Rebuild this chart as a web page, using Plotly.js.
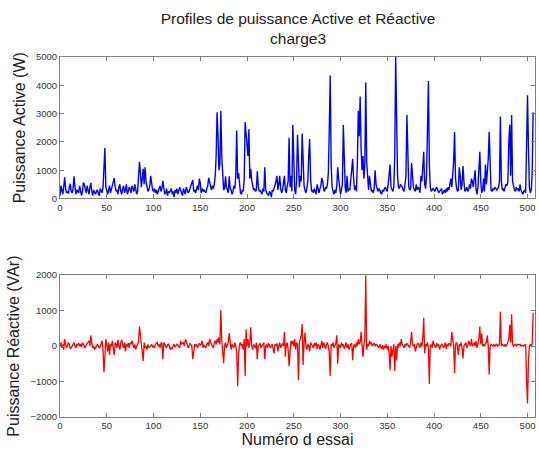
<!DOCTYPE html>
<html><head><meta charset="utf-8">
<script src="https://cdn.plot.ly/plotly-3.0.1.min.js"></script>
<style>html,body{margin:0;padding:0;background:#fff}</style>
</head><body><div id="chart" style="width:539px;height:455px"></div>
<script>
const title = "Profiles de puissance Active et Réactive<br>charge3";
const yTitleTop = "Puissance Active (W)";
const yTitleBottom = "Puissance Réactive (VAr)";
const xTitle = "Numéro d essai";
const xTicks = [0,50,100,150,200,250,300,350,400,450,500];

const activePower = [
100,450,300,150,420,750,350,200,250,180,400,520,250,200,350,780,400,150,300,250,
200,450,300,100,250,560,500,350,200,450,300,150,400,550,250,100,300,200,150,250,
300,180,100,350,250,200,400,1100,1780,400,250,150,300,450,200,350,500,650,720,400,
250,300,150,400,500,250,150,350,450,200,300,500,150,250,400,350,200,450,300,250,
500,300,150,250,650,1300,900,400,700,1050,500,1100,600,350,250,300,450,800,400,300,
250,350,200,300,150,250,300,450,250,350,620,300,150,200,350,100,250,200,300,350,
150,250,50,300,200,350,150,250,400,300,200,100,350,250,150,400,300,200,250,350,
400,550,650,250,300,200,350,450,300,700,550,200,350,250,300,250,200,350,450,730,
600,400,300,450,350,500,800,1500,3050,2200,1000,1200,3100,1500,500,300,350,780,400,250,
200,780,350,300,150,250,450,350,800,2400,700,900,400,200,150,300,250,650,2700,2050,
1900,1500,2450,700,1050,650,400,300,350,250,300,960,450,250,300,200,150,350,250,1100,
300,200,150,100,250,200,50,300,250,350,450,600,800,300,500,800,350,200,300,500,
800,300,200,450,600,2150,400,800,250,2600,1500,300,150,600,2250,1200,400,800,600,2300,
1200,450,300,200,350,600,1500,2100,700,250,300,200,350,250,150,500,300,200,350,450,
730,600,300,250,400,350,500,900,2500,4350,1200,400,250,150,300,200,450,1100,700,250,
150,300,500,2600,1500,400,200,800,250,350,300,600,900,1400,700,300,450,250,1200,3100,
2200,3600,1800,1000,1500,700,1200,4100,1300,500,300,800,400,250,300,200,350,1000,500,300,
250,350,300,200,150,300,250,350,400,300,250,500,800,1200,400,300,250,400,1500,5000,
2500,800,400,350,500,450,400,300,250,500,800,2950,1500,400,300,350,1250,700,400,300,
250,500,300,400,350,200,800,600,1000,1650,500,350,800,2500,4150,1200,400,250,300,350,
300,250,350,400,300,200,250,300,350,150,250,300,200,350,250,400,300,500,700,400,
800,1300,2350,700,400,250,300,1100,800,300,500,1150,600,250,300,400,250,300,500,350,
700,600,400,800,1000,300,150,400,900,1650,600,200,300,700,250,1200,500,900,1400,2350,
800,300,250,350,300,400,350,300,350,400,600,2900,600,300,350,250,400,500,450,600,
2000,2600,800,2950,600,350,300,250,400,300,350,250,500,300,200,150,250,300,200,1500,
3650,1800,400,200,300,900,3050
];

const reactivePower = [
0,100,-50,50,-100,200,50,-50,0,100,50,-80,-50,0,50,100,0,-50,50,30,
80,0,50,-30,100,50,0,-50,30,80,100,150,0,300,80,-50,0,-100,-50,0,
50,0,-50,-20,80,150,-100,-740,-300,200,50,-150,100,-250,50,0,150,-100,-250,100,
50,-50,180,0,-100,100,180,50,-50,100,-150,50,0,80,-50,100,50,150,0,-50,
50,-100,0,50,100,560,300,0,-100,-420,100,-50,0,-100,50,-50,-20,0,50,-30,
0,-50,50,80,100,0,50,-50,80,100,-370,100,50,0,-50,30,50,0,-100,-50,
-80,0,50,-30,0,50,30,0,-50,150,50,80,100,0,180,150,50,-50,0,80,
50,0,-370,-100,50,0,50,-50,0,80,30,50,150,-50,30,0,-50,50,100,0,
200,100,50,0,-50,80,150,50,200,100,250,50,1020,150,-100,-480,0,100,-50,50,
100,370,0,-100,50,0,-50,100,0,-200,-1130,-250,50,100,0,50,-100,200,-840,470,
0,200,-50,100,530,0,-100,50,0,-50,100,-370,0,50,80,-50,0,50,100,-370,
0,50,-50,80,30,-50,0,50,-80,-200,50,0,80,-150,0,100,-50,50,80,0,
400,-300,50,100,-100,-570,0,150,50,150,0,200,-100,100,50,-960,100,200,300,620,
-530,100,380,0,-100,50,0,-150,100,50,0,-50,80,0,100,-80,50,0,-100,50,
150,-50,100,0,-80,50,100,0,-200,-840,50,0,100,-50,0,80,300,-500,50,0,
-50,100,0,50,-80,0,100,-50,50,-100,0,50,80,-400,0,50,-50,100,0,200,
50,100,400,-50,-300,50,200,2000,-100,50,0,150,50,100,0,50,80,0,50,30,
0,-50,50,0,-80,30,-100,0,-50,50,-100,0,-200,-680,0,-300,-100,50,-700,0,
-400,50,-50,100,0,200,50,0,-50,50,0,80,50,0,-50,100,400,50,0,50,
-150,0,50,80,0,-50,100,0,200,800,-200,50,0,100,-50,-1070,0,50,-50,150,
50,0,-50,80,0,50,-100,0,50,30,-50,0,100,-80,50,0,80,50,0,400,
100,0,-760,50,100,0,-250,50,0,100,-50,-350,0,50,100,-50,0,150,50,0,
200,0,50,100,0,150,-50,100,200,550,50,350,0,50,0,80,100,300,0,-800,
0,50,30,0,50,0,30,50,0,30,50,970,0,50,30,0,50,0,30,100,
200,600,100,900,50,0,30,50,0,50,50,30,50,0,30,20,0,30,50,-1000,
-1620,-400,0,50,0,50,930
];

const idx = activePower.map((_, i) => i);
const idxQ = reactivePower.map((_, i) => i);

const axisCommon = {
  showgrid: false, zeroline: false, showline: true, mirror: 'ticks',
  linecolor: '#7f7f7f', linewidth: 1, ticks: 'inside', ticklen: 4,
  tickcolor: '#7f7f7f', tickfont: {family: 'Arial, Liberation Sans', size: 9.5, color: '#333'}
};

const traces = [
  {x: idx, y: activePower, type: 'scatter', mode: 'lines',
   line: {color: '#0000ff', width: 1.4}, xaxis: 'x', yaxis: 'y', hoverinfo: 'none'},
  {x: idxQ, y: reactivePower, type: 'scatter', mode: 'lines',
   line: {color: '#ff0000', width: 1.3}, xaxis: 'x2', yaxis: 'y2', hoverinfo: 'none'}
];

const layout = {
  width: 539, height: 455, showlegend: false,
  paper_bgcolor: '#fff', plot_bgcolor: '#fff',
  margin: {l: 60, r: 4, t: 57, b: 38},
  title: {text: title, x: 0.553, xanchor: 'center', yref: 'container', y: 0.947, yanchor: 'middle',
          font: {family: 'Arial, Liberation Sans', size: 15.5, color: '#222'}},
  xaxis: Object.assign({}, axisCommon, {domain: [0, 1], range: [0, 508], tickvals: xTicks, anchor: 'y'}),
  yaxis: Object.assign({}, axisCommon, {domain: [0.607, 1], range: [0, 5000], dtick: 1000, anchor: 'x',
          title: {text: yTitleTop, standoff: 6, font: {family: 'Arial, Liberation Sans', size: 16, color: '#222'}}}),
  xaxis2: Object.assign({}, axisCommon, {domain: [0, 1], range: [0, 508], tickvals: xTicks, anchor: 'y2',
          title: {text: xTitle, standoff: 2, font: {family: 'Arial, Liberation Sans', size: 16, color: '#222'}}}),
  yaxis2: Object.assign({}, axisCommon, {domain: [0, 0.394], range: [-2000, 2000], dtick: 1000, anchor: 'x2',
          title: {text: yTitleBottom, standoff: 6, font: {family: 'Arial, Liberation Sans', size: 16, color: '#222'}}})
};

Plotly.newPlot('chart', traces, layout, {staticPlot: true, displayModeBar: false});
</script></body></html>
